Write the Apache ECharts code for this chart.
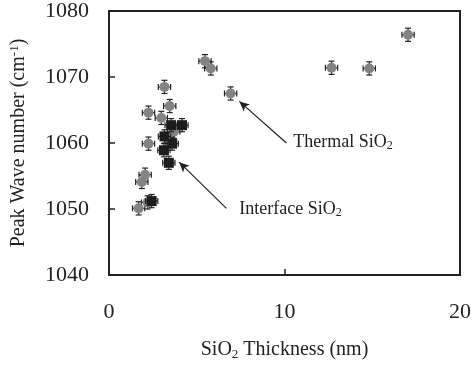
<!DOCTYPE html>
<html>
<head>
<meta charset="utf-8">
<script src="https://cdn.jsdelivr.net/npm/echarts@6/dist/echarts.min.js"></script>
<style>html,body{margin:0;padding:0;background:#fff;}#c{width:474px;height:366px;}</style>
</head>
<body>
<div id="c"></div>
<script>
// Thermal SiO2 (gray markers)
var thermalX = [1.69, 1.87, 2.06, 2.2, 2.25, 2.25, 2.98, 3.16, 3.46, 3.69, 5.47, 5.8, 6.93, 12.68, 14.83, 17.04];
var thermalY = [1050.1, 1054.1, 1055.2, 1051.0, 1059.9, 1064.6, 1063.8, 1068.5, 1065.6, 1061.7, 1072.4, 1071.3, 1067.5, 1071.4, 1071.3, 1076.4];
// Interface SiO2 (black squares)
var interfaceX = [2.43, 3.13, 3.16, 3.41, 3.54, 3.6, 4.16];
var interfaceY = [1051.2, 1058.9, 1061.0, 1057.0, 1062.7, 1059.9, 1062.7];
// error bar half widths
var xErr = 0.35;
var yErr = 1.0;
// axis ticks
var xTicks = [0, 10, 20];
var yTicks = [1040, 1050, 1060, 1070, 1080];
// annotations: [text, textX, textY, arrowFromX, arrowFromY, arrowToX, arrowToY]
var annThermal = ['Thermal', 10.5, 1060.1, 10.11, 1060.0, 7.43, 1066.3];
var annInterface = ['Interface', 7.42, 1050.0, 6.69, 1050.1, 4.0, 1057.1];

var FONT = 'Liberation Serif';
var thermalData = thermalX.map(function (x, i) { return [x, thermalY[i]]; });
var interfaceData = interfaceX.map(function (x, i) { return [x, interfaceY[i]]; });

function errRender(params, api) {
  var x = api.value(0), y = api.value(1);
  var l = api.coord([x - xErr, y]), r = api.coord([x + xErr, y]);
  var t = api.coord([x, y + yErr]), b = api.coord([x, y - yErr]);
  var c = 3;
  var st = { stroke: '#222', lineWidth: 1.2 };
  return {
    type: 'group',
    children: [
      { type: 'line', shape: { x1: l[0], y1: l[1], x2: r[0], y2: r[1] }, style: st },
      { type: 'line', shape: { x1: t[0], y1: t[1], x2: b[0], y2: b[1] }, style: st },
      { type: 'line', shape: { x1: l[0], y1: l[1] - c, x2: l[0], y2: l[1] + c }, style: st },
      { type: 'line', shape: { x1: r[0], y1: r[1] - c, x2: r[0], y2: r[1] + c }, style: st },
      { type: 'line', shape: { x1: t[0] - c, y1: t[1], x2: t[0] + c, y2: t[1] }, style: st },
      { type: 'line', shape: { x1: b[0] - c, y1: b[1], x2: b[0] + c, y2: b[1] }, style: st }
    ]
  };
}

var rich = {
  a: { fontFamily: FONT, fontSize: 18, color: '#222', lineHeight: 20 },
  sub: { fontFamily: FONT, fontSize: 12, color: '#222', lineHeight: 8, verticalAlign: 'bottom' },
  sup: { fontFamily: FONT, fontSize: 12, color: '#222', lineHeight: 8, verticalAlign: 'top' }
};

function annLabel(a) {
  return {
    coord: [a[1], a[2]],
    symbol: 'circle',
    symbolSize: 0,
    label: {
      show: true, position: 'right', distance: 0,
      formatter: '{a|' + a[0] + ' SiO}{sub|2}', rich: rich
    }
  };
}
function annArrow(a) {
  return [{ coord: [a[3], a[4]] }, { coord: [a[5], a[6]] }];
}

var nameRich = {
  a: { fontFamily: FONT, fontSize: 20, color: '#222', lineHeight: 22 },
  sub: { fontFamily: FONT, fontSize: 13, color: '#222', lineHeight: 8, verticalAlign: 'bottom' },
  sup: { fontFamily: FONT, fontSize: 13, color: '#222', lineHeight: 8, verticalAlign: 'top' }
};

var chart = echarts.init(document.getElementById('c'), null, { renderer: 'canvas' });
chart.setOption({
  animation: false,
  backgroundColor: '#fff',
  grid: { left: 106, right: 13, top: 8, bottom: 89, show: true, borderColor: '#222', borderWidth: 2 },
  xAxis: {
    type: 'value', min: xTicks[0], max: xTicks[xTicks.length - 1], interval: 10,
    name: '{a|SiO}{sub|2}{a| Thickness (nm)}', nameLocation: 'middle', nameGap: 64,
    nameTextStyle: { rich: nameRich },
    axisLine: { show: true, lineStyle: { color: '#222', width: 2 } },
    axisTick: { show: true, inside: true, length: 6, lineStyle: { color: '#222', width: 1.5 } },
    axisLabel: { fontFamily: FONT, fontSize: 22, color: '#222', margin: 26, formatter: function (v) { return String(v); } },
    splitLine: { show: false }
  },
  yAxis: {
    type: 'value', min: yTicks[0], max: yTicks[yTicks.length - 1], interval: 10,
    name: '{a|Peak Wave number (cm}{sup|-1}{a|)}', nameLocation: 'middle', nameGap: 79,
    nameTextStyle: { rich: nameRich },
    axisLine: { show: true, lineStyle: { color: '#222', width: 2 } },
    axisTick: { show: true, inside: true, length: 6, lineStyle: { color: '#222', width: 1.5 } },
    axisLabel: { fontFamily: FONT, fontSize: 22, color: '#222', margin: 20, formatter: function (v) { return String(v); } },
    splitLine: { show: false }
  },
  series: [
    { type: 'custom', renderItem: errRender, data: thermalData, z: 2, silent: true },
    { type: 'scatter', data: thermalData, symbol: 'circle', symbolSize: 10, itemStyle: { color: '#838383', opacity: 1 }, z: 3, silent: true },
    { type: 'custom', renderItem: errRender, data: interfaceData, z: 4, silent: true },
    { type: 'scatter', data: interfaceData, symbol: 'rect', symbolSize: 10, itemStyle: { color: '#1c1c1c', opacity: 1 }, z: 5, silent: true,
      markLine: {
        silent: true, symbol: ['none', 'arrow'], symbolSize: [7, 10],
        lineStyle: { color: '#222', width: 1.2, type: 'solid' },
        label: { show: false },
        data: [annArrow(annThermal), annArrow(annInterface)]
      },
      markPoint: {
        silent: true,
        data: [annLabel(annThermal), annLabel(annInterface)]
      }
    }
  ]
});
</script>
</body>
</html>
